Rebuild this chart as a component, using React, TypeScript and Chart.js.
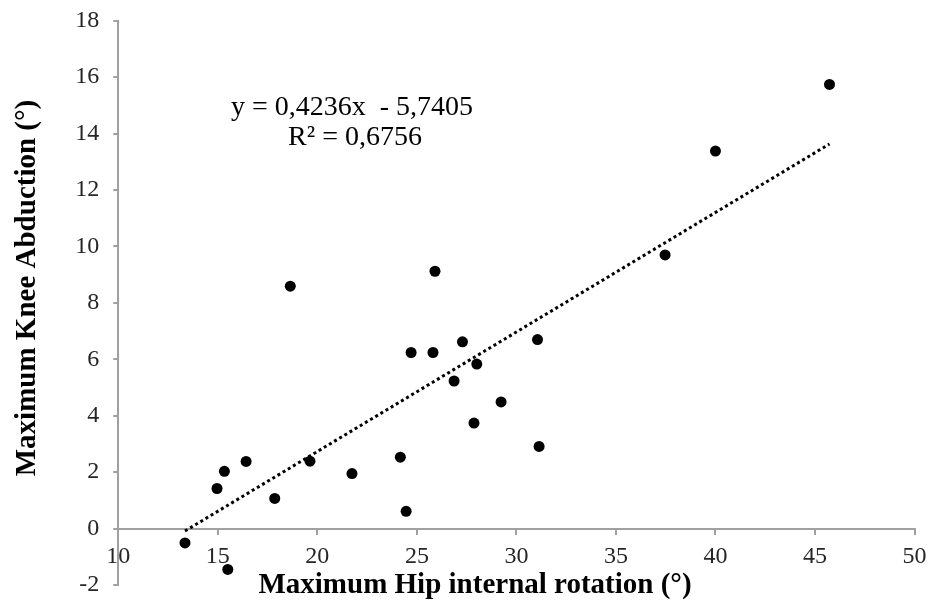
import React, { useEffect, useRef } from 'react';
import { Chart, registerables } from 'chart.js';

Chart.register(...registerables);

// Data
const hipRotation = [13.35, 15.5, 14.96, 15.33, 16.42, 17.86, 18.64, 19.63, 21.74, 24.17, 24.46, 24.71, 25.81, 25.91, 26.87, 27.29, 28.01, 27.87, 29.23, 31.06, 31.14, 37.47, 40.0, 45.73];
const kneeAbduction = [-0.51, -1.45, 1.42, 2.03, 2.38, 1.07, 8.59, 2.39, 1.95, 2.53, 0.61, 6.24, 6.24, 9.12, 5.23, 6.62, 5.83, 3.74, 4.49, 6.7, 2.91, 9.7, 13.38, 15.74];

const xMin = 10;
const xMax = 50;
const xStep = 5;
const yMin = -2;
const yMax = 18;
const yStep = 2;

const trendSlope = 0.4236;
const trendIntercept = -5.7405;
const equationLines = ['y = 0,4236x  - 5,7405', 'R² = 0,6756'];
const xTitle = 'Maximum Hip internal rotation (°)';
const yTitle = 'Maximum Knee Abduction (°)';

const SERIF = '"Liberation Serif", "Times New Roman", serif';

const textPlugin = {
  id: 'textPlugin',
  afterDraw(chart: any) {
    const ctx = chart.ctx as CanvasRenderingContext2D;
    ctx.save();
    ctx.fillStyle = '#000';
    // equation
    ctx.font = `28px ${SERIF}`;
    ctx.textAlign = 'center';
    ctx.textBaseline = 'alphabetic';
    ctx.fillText(equationLines[0], 352, 115);
    ctx.fillText(equationLines[1], 355, 145);
    // x title
    ctx.font = `bold 29px ${SERIF}`;
    ctx.fillText(xTitle, 475, 593);
    // y title
    ctx.translate(35, 288);
    ctx.rotate(-Math.PI / 2);
    ctx.fillText(yTitle, 0, 0);
    ctx.restore();
  },
};

export default function App() {
  const ref = useRef<HTMLCanvasElement | null>(null);

  useEffect(() => {
    document.body.style.margin = '0';
    const canvas = ref.current;
    if (!canvas) return;
    const points = hipRotation.map((x, i) => ({ x, y: kneeAbduction[i] }));
    const tx0 = Math.min(...hipRotation);
    const tx1 = Math.max(...hipRotation);
    const trend = [
      { x: tx0, y: trendSlope * tx0 + trendIntercept },
      { x: tx1, y: trendSlope * tx1 + trendIntercept },
    ];
    const axisGray = '#a0a0a0';
    const chart = new Chart(canvas, {
      type: 'scatter',
      data: {
        datasets: [
          {
            data: points,
            backgroundColor: '#000',
            borderColor: '#000',
            pointRadius: 5.5,
            pointHoverRadius: 5.5,
            pointBorderWidth: 0,
          },
          {
            type: 'line',
            data: trend,
            borderColor: '#000',
            borderWidth: 3,
            borderDash: [3, 3],
            pointRadius: 0,
            fill: false,
            showLine: true,
          } as any,
        ],
      },
      options: {
        animation: false,
        responsive: true,
        maintainAspectRatio: false,
        layout: { padding: { top: 20.7, bottom: 18, right: 17.5, left: 0 } },
        plugins: {
          legend: { display: false },
          tooltip: { enabled: false },
          title: { display: false },
        },
        scales: {
          x: {
            type: 'linear',
            min: xMin,
            max: xMax,
            position: { y: 0 } as any,
            afterFit: (s: any) => {
              s.paddingLeft = 0;
              s.paddingRight = 0;
            },
            ticks: {
              stepSize: xStep,
              color: '#262626',
              font: { family: SERIF, size: 24 },
              padding: 9,
            },
            grid: { drawOnChartArea: false, drawTicks: true, tickLength: 5, color: axisGray, lineWidth: 2 },
            border: { display: true, color: axisGray, width: 2 },
          },
          y: {
            type: 'linear',
            min: yMin,
            max: yMax,
            position: 'left',
            afterFit: (s: any) => {
              s.width = 118.3;
              s.paddingTop = 0;
              s.paddingBottom = 0;
            },
            ticks: {
              stepSize: yStep,
              color: '#262626',
              font: { family: SERIF, size: 24 },
              padding: 14,
            },
            grid: { drawOnChartArea: false, drawTicks: true, tickLength: 5, color: axisGray, lineWidth: 2 },
            border: { display: true, color: axisGray, width: 2 },
          },
        },
      },
      plugins: [textPlugin],
    });
    return () => chart.destroy();
  }, []);

  return (
    <div style={{ width: 932, height: 603, position: 'relative', background: '#fff' }}>
      <canvas ref={ref} />
    </div>
  );
}
